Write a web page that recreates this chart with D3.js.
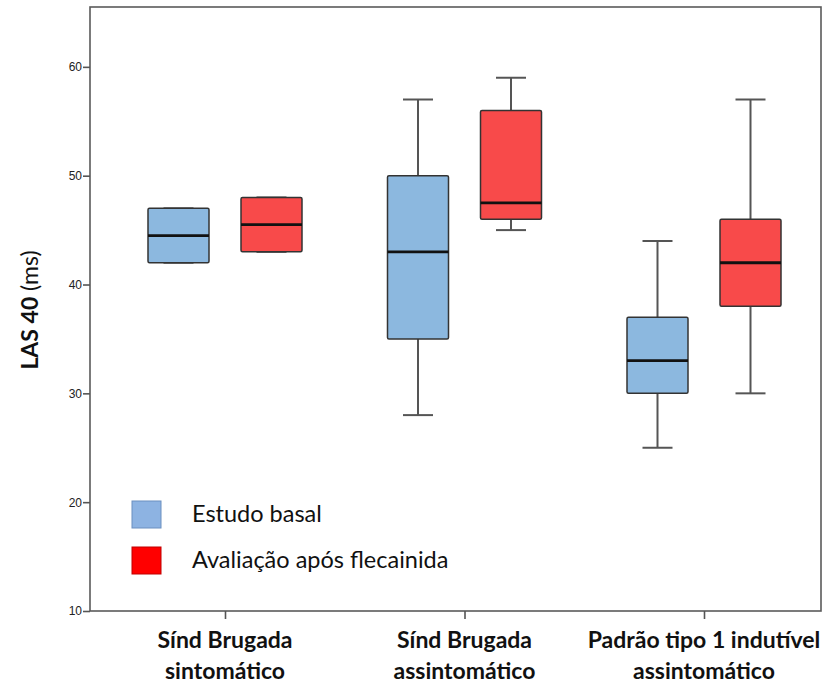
<!DOCTYPE html>
<html>
<head>
<meta charset="utf-8">
<script src="https://cdn.jsdelivr.net/npm/d3@7"></script>
<style>
  body { margin: 0; background: #fff; }
  svg { display: block; }
</style>
</head>
<body>
<div id="chart"></div>
<script>
// categories (two-line labels) and the two series
const categories = [
  ["Sínd Brugada", "sintomático"],
  ["Sínd Brugada", "assintomático"],
  ["Padrão tipo 1 indutível", "assintomático"],
];
const seriesNames = ["Estudo basal", "Avaliação após flecainida"];

// [min, q1, median, q3, max] per category
const basal = [
  [42, 42, 44.5, 47, 47],
  [28, 35, 43, 50, 57],
  [25, 30, 33, 37, 44],
];
const flecainida = [
  [43, 43, 45.5, 48, 48],
  [45, 46, 47.5, 56, 59],
  [30, 38, 42, 46, 57],
];
const yTicks = [10, 20, 30, 40, 50, 60];

const width = 832,
  height = 690;
const plotLeft = 90,
  plotRight = 821,
  plotTop = 7,
  plotBottom = 611;

const boxFill = ["#8cb8df", "#f84a4a"];
const legendFill = ["#8db3e2", "#ff0000"];
const legendStroke = ["#6b8fc0", "#c00000"];

const svg = d3
  .select("#chart")
  .append("svg")
  .attr("width", width)
  .attr("height", height);

const y = d3.scaleLinear().domain([10, 65.5]).range([plotBottom, plotTop]);

const x = d3
  .scalePoint()
  .domain(categories.map((d, i) => i))
  .range([225, 704]);

const offset = d3.scalePoint().domain([0, 1]).range([-46.5, 46.5]);
const boxW = 61,
  capW = 30;

// frame
svg
  .append("rect")
  .attr("x", plotLeft)
  .attr("y", plotTop)
  .attr("width", plotRight - plotLeft)
  .attr("height", plotBottom - plotTop)
  .attr("fill", "none")
  .attr("stroke", "#5a5a5a")
  .attr("stroke-width", 1.6);

// y axis
const yAxis = svg
  .append("g")
  .attr("transform", `translate(${plotLeft},0)`)
  .call(d3.axisLeft(y).tickValues(yTicks).tickSize(7).tickPadding(1));
yAxis.select(".domain").remove();
yAxis.selectAll(".tick line").attr("stroke", "#555").attr("stroke-width", 1.6);
yAxis
  .selectAll(".tick text")
  .attr("fill", "#222")
  .style("font-family", "Liberation Sans, Arial, sans-serif")
  .style("font-size", "12px");

// x axis
const xAxis = svg
  .append("g")
  .attr("transform", `translate(0,${plotBottom})`)
  .call(d3.axisBottom(x).tickSize(8).tickFormat(""));
xAxis.select(".domain").remove();
xAxis.selectAll(".tick line").attr("stroke", "#555").attr("stroke-width", 1.6);

const labels = svg
  .append("g")
  .selectAll("text")
  .data(categories)
  .join("text")
  .attr("x", (d, i) => x(i))
  .attr("y", 648)
  .attr("text-anchor", "middle")
  .style("font-family", "Lato, sans-serif")
  .style("font-weight", "bold")
  .style("font-size", "23px")
  .attr("fill", "#111");
labels
  .selectAll("tspan")
  .data((d) => d)
  .join("tspan")
  .attr("x", function () {
    return this.parentNode.getAttribute("x");
  })
  .attr("dy", (d, i) => (i === 0 ? 0 : 31))
  .text((d) => d);

// y title
svg
  .append("text")
  .attr("transform", "translate(38,310) rotate(-90)")
  .attr("text-anchor", "middle")
  .style("font-family", "Lato, sans-serif")
  .style("font-size", "23px")
  .attr("fill", "#111")
  .call((t) => {
    t.append("tspan").style("font-weight", "bold").text("LAS 40");
    t.append("tspan").text(" (ms)");
  });

// boxes
const seriesData = [basal, flecainida];
seriesData.forEach((series, s) => {
  const g = svg.append("g");
  const items = g
    .selectAll("g")
    .data(series)
    .join("g")
    .attr("transform", (d, i) => `translate(${x(i) + offset(s)},0)`);

  // whiskers
  items
    .append("line")
    .attr("y1", (d) => y(d[4]))
    .attr("y2", (d) => y(d[3]))
    .attr("stroke", "#555")
    .attr("stroke-width", 2);
  items
    .append("line")
    .attr("y1", (d) => y(d[1]))
    .attr("y2", (d) => y(d[0]))
    .attr("stroke", "#555")
    .attr("stroke-width", 2);
  // caps
  [0, 4].forEach((k) => {
    items
      .append("line")
      .attr("x1", -capW / 2)
      .attr("x2", capW / 2)
      .attr("y1", (d) => y(d[k]))
      .attr("y2", (d) => y(d[k]))
      .attr("stroke", "#555")
      .attr("stroke-width", 2);
  });
  // box
  items
    .append("rect")
    .attr("x", -boxW / 2)
    .attr("width", boxW)
    .attr("y", (d) => y(d[3]))
    .attr("height", (d) => y(d[1]) - y(d[3]))
    .attr("rx", 1.5)
    .attr("fill", boxFill[s])
    .attr("stroke", "#333")
    .attr("stroke-width", 1.5);
  // median
  items
    .append("line")
    .attr("x1", -boxW / 2)
    .attr("x2", boxW / 2)
    .attr("y1", (d) => y(d[2]))
    .attr("y2", (d) => y(d[2]))
    .attr("stroke", "#111")
    .attr("stroke-width", 2.8);
});

// legend
const legend = svg
  .append("g")
  .selectAll("g")
  .data(seriesNames)
  .join("g")
  .attr("transform", (d, i) => `translate(132,${501 + i * 46})`);
legend
  .append("rect")
  .attr("width", 29)
  .attr("height", 27)
  .attr("fill", (d, i) => legendFill[i])
  .attr("stroke", (d, i) => legendStroke[i])
  .attr("stroke-width", 1);
legend
  .append("text")
  .attr("x", 60)
  .attr("y", 21)
  .style("font-family", "Lato, sans-serif")
  .style("font-size", "23.5px")
  .attr("fill", "#111")
  .text((d) => d);
</script>
</body>
</html>
